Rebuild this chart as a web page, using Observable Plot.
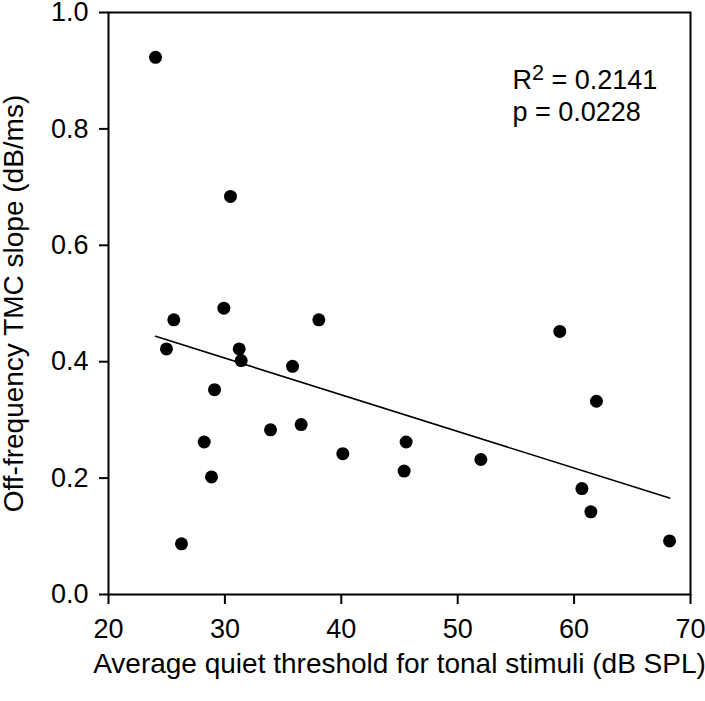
<!DOCTYPE html>
<html>
<head>
<meta charset="utf-8">
<script src="https://cdn.jsdelivr.net/npm/d3@7"></script>
<script src="https://cdn.jsdelivr.net/npm/@observablehq/plot@0.6"></script>
<style>
  html, body { margin: 0; padding: 0; background: #fff; }
</style>
</head>
<body>
<div id="chart"></div>
<script>
// Data
const threshold = [24.04, 30.48, 29.91, 25.61, 38.07, 24.98, 31.23, 31.40, 35.81, 29.11, 36.55, 33.92,
                   28.22, 40.13, 28.85, 26.27, 58.77, 61.92, 45.57, 45.40, 51.99, 60.67, 61.44, 68.20];
const slope     = [0.923, 0.684, 0.492, 0.472, 0.472, 0.422, 0.422, 0.402, 0.392, 0.352, 0.292, 0.283,
                   0.262, 0.242, 0.202, 0.087, 0.452, 0.332, 0.262, 0.212, 0.232, 0.182, 0.142, 0.092];
const xTicks = [20, 30, 40, 50, 60, 70];
const yTicks = [0, 0.2, 0.4, 0.6, 0.8, 1.0];
const statLines = ["R² = 0.2141", "p = 0.0228"];
const statX = [54.7, 54.7];
const statY = [0.883, 0.829];
const xTitle = "Average quiet threshold for tonal stimuli (dB SPL)";
const yTitle = "Off-frequency TMC slope (dB/ms)";

const points = threshold.map((x, i) => ({x, y: slope[i]}));
const stats = statLines.map((t, i) => ({t, x: statX[i], y: statY[i]}));

const font = "'Liberation Sans', Arial, Helvetica, sans-serif";

const chart = Plot.plot({
  width: 705,
  height: 701,
  marginLeft: 108,
  marginRight: 15,
  marginTop: 12,
  marginBottom: 107,
  style: {fontFamily: font, fontSize: "27px", background: "#fff", color: "#000"},
  x: {domain: [20, 70]},
  y: {domain: [0, 1]},
  marks: [
    Plot.frame({stroke: "#000", strokeWidth: 2}),
    Plot.axisX({ticks: xTicks, tickSize: 10, tickPadding: 14, strokeWidth: 2, label: null, fontSize: 27}),
    Plot.axisY({ticks: yTicks, tickSize: 9, tickPadding: 11, strokeWidth: 2, tickFormat: d3.format(".1f"), label: null, fontSize: 27}),
    Plot.linearRegressionY(points, {x: "x", y: "y", ci: 0, stroke: "#000", strokeWidth: 1.6}),
    Plot.dot(points, {x: "x", y: "y", r: 6.5, fill: "#000", stroke: "none"}),
    Plot.text(stats, {x: "x", y: "y", text: "t", textAnchor: "start", fontSize: 27, fill: "#000"}),
    Plot.text([xTitle], {frameAnchor: "bottom", textAnchor: "middle", dy: 78, fontSize: 28, fill: "#000"}),
    Plot.text([yTitle], {frameAnchor: "left", textAnchor: "middle", dx: -94, rotate: -90, fontSize: 28, fill: "#000"})
  ]
});

// Render the superscript 2 of R² as a raised, smaller digit
chart.querySelectorAll("text").forEach(t => {
  if (t.textContent === "R² = 0.2141") {
    t.textContent = "";
    const ns = "http://www.w3.org/2000/svg";
    const a = document.createElementNS(ns, "tspan"); a.textContent = "R";
    const b = document.createElementNS(ns, "tspan"); b.textContent = "2";
    b.setAttribute("dy", "-0.45em"); b.setAttribute("font-size", "0.8em");
    const c = document.createElementNS(ns, "tspan"); c.textContent = " = 0.2141";
    c.setAttribute("dy", "0.36em");
    t.append(a, b, c);
  }
});

document.getElementById("chart").appendChild(chart);
</script>
</body>
</html>
